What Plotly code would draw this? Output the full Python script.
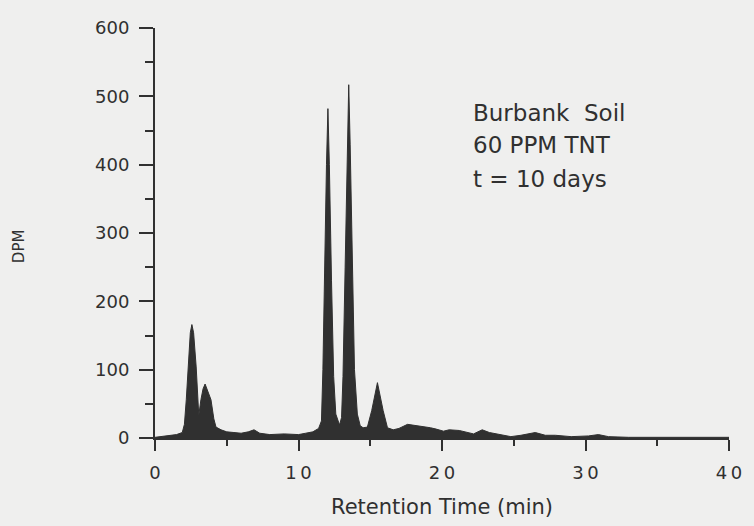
import plotly.graph_objects as go

# Retention time (min) and activity (DPM)
time_min = [0, 0.5, 1.0, 1.5, 1.9, 2.05, 2.18, 2.34, 2.46, 2.57, 2.69, 2.87, 2.98, 3.05,
            3.2, 3.35, 3.49, 3.65, 3.9, 4.1, 4.25, 4.6, 5.0, 5.5, 6.0, 6.5, 6.9, 7.3,
            8.0, 9.0, 10.0, 10.5, 11.0, 11.4, 11.6, 11.7, 11.8, 11.95, 12.05, 12.15,
            12.3, 12.45, 12.6, 12.86, 13.0, 13.1, 13.25, 13.4, 13.5, 13.6, 13.75, 13.9,
            14.1, 14.3, 14.5, 14.8, 15.1, 15.5, 15.9, 16.2, 16.6, 17.0, 17.6, 18.3,
            19.2, 19.6, 20.1, 20.5, 21.2, 22.2, 22.8, 23.3, 24.0, 24.8, 25.5, 26.5,
            27.2, 27.9, 29.0, 30.2, 30.9, 31.6, 33.0, 35.0, 38.0, 40.0]
dpm = [1, 2, 3, 5, 8, 20, 56, 104, 154, 166, 154, 104, 56, 33,
       56, 72, 79, 70, 56, 28, 16, 12, 9, 8, 7, 9, 12, 7,
       5, 6, 5, 7, 9, 14, 25, 100, 230, 400, 482, 400,
       230, 90, 35, 19, 30, 90, 250, 430, 517, 430, 250, 100,
       35, 18, 15, 16, 40, 81, 40, 15, 12, 14, 20, 18,
       15, 13, 10, 12, 11, 6, 12, 8, 5, 2, 4, 8,
       4, 4, 2, 3, 5, 2, 1, 1, 1, 1]

x_ticks = [0, 10, 20, 30, 40]
x_tick_labels = ["0", "1\u20090", "2\u20090", "3\u20090", "4\u20090"]
y_ticks = [0, 100, 200, 300, 400, 500, 600]
info_lines = ["Burbank  Soil", "60 PPM TNT", "t = 10 days"]

ink = "#303030"
bg = "#efefee"
font_family = "DejaVu Sans, Liberation Sans, Arial, sans-serif"

fig = go.Figure()
fig.add_trace(go.Scatter(
    x=time_min, y=dpm, mode="lines", fill="tozeroy",
    line=dict(color=ink, width=1), fillcolor=ink, hoverinfo="skip",
))

W, H = 754, 526
ml, mr, mt, mb = 155, 16, 28, 88
pw, ph = W - ml - mr, H - mt - mb

def px_x(px):
    return (px - ml) / pw

def px_y(py):
    return (H - mb - py) / ph

fig.update_layout(
    width=W, height=H,
    margin=dict(l=ml, r=mr, t=mt, b=mb, pad=0),
    paper_bgcolor=bg, plot_bgcolor=bg,
    showlegend=False,
    font=dict(family=font_family, color=ink, size=18),
    xaxis=dict(
        range=[0, 40], tickvals=x_ticks, ticktext=x_tick_labels,
        showline=True, linecolor=ink, linewidth=2, showgrid=False, zeroline=False,
        ticks="outside", ticklen=11, tickwidth=2, tickcolor=ink,
        ticklabelstandoff=6,
        minor=dict(dtick=5, ticks="outside", ticklen=6, tickwidth=2, tickcolor=ink),
        tickfont=dict(size=18),
    ),
    yaxis=dict(
        range=[0, 600], tickvals=y_ticks, ticktext=[str(v) for v in y_ticks],
        showline=True, linecolor=ink, linewidth=2, showgrid=False, zeroline=False,
        ticks="outside", ticklen=14, tickwidth=2, tickcolor=ink,
        ticklabelstandoff=6,
        minor=dict(dtick=50, ticks="outside", ticklen=8, tickwidth=2, tickcolor=ink),
        tickfont=dict(size=18),
    ),
)

annotations = [
    dict(text="Retention Time (min)", xref="paper", yref="paper",
         x=0.5, y=px_y(507), xanchor="center", yanchor="middle",
         showarrow=False, font=dict(size=21, color=ink)),
    dict(text="DPM", xref="paper", yref="paper",
         x=px_x(17), y=px_y(246), xanchor="center", yanchor="middle",
         textangle=-90, showarrow=False, font=dict(size=15, color=ink)),
]
for line, cy in zip(info_lines, [113, 145, 179]):
    annotations.append(dict(text=line, xref="paper", yref="paper",
                            x=px_x(476), y=px_y(cy), xanchor="left", yanchor="middle",
                            showarrow=False, font=dict(size=23, color=ink)))
fig.update_layout(annotations=annotations)

fig.write_html("out.html")
